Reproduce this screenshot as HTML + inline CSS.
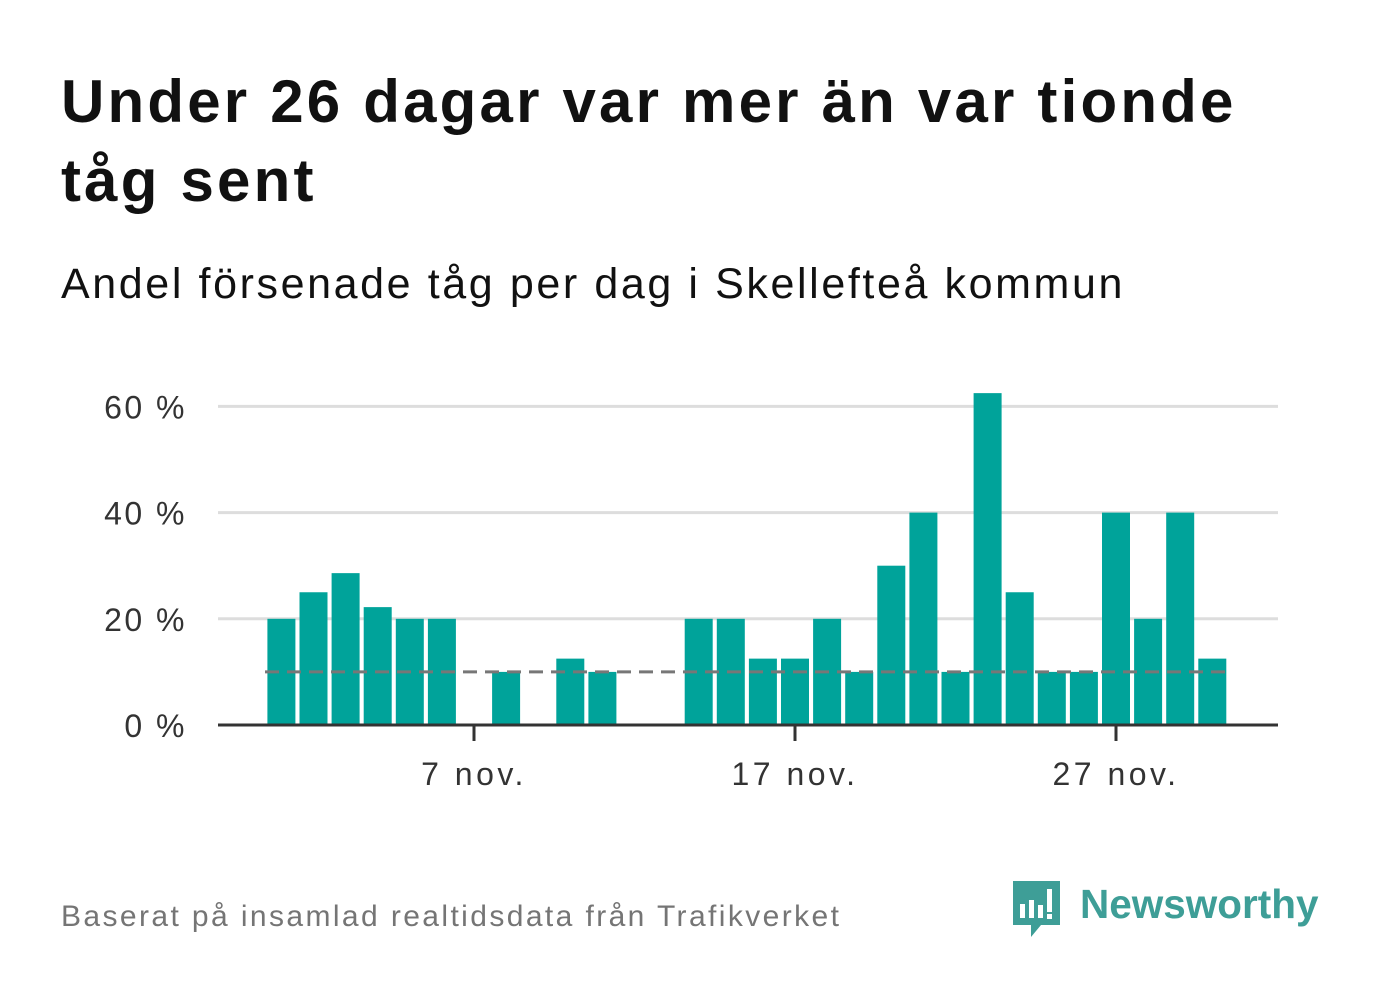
<!DOCTYPE html>
<html><head><meta charset="utf-8"><style>
body{margin:0;background:#fff;width:1382px;height:999px;overflow:hidden;font-family:"Liberation Sans","DejaVu Sans",sans-serif;}
#title{position:absolute;left:61px;top:62px;font-size:60px;font-weight:bold;line-height:79px;color:#111;margin:0;letter-spacing:3.2px}
#sub{position:absolute;left:61px;top:260px;font-size:43px;color:#111;letter-spacing:2.6px}
#foot{position:absolute;left:61px;top:900px;font-size:30px;color:#757575;letter-spacing:2.4px}
svg{position:absolute;left:0;top:0}
</style></head><body>
<h1 id="title">Under 26 dagar var mer än var tionde<br>tåg sent</h1>
<div id="sub">Andel försenade tåg per dag i Skellefteå kommun</div>
<div id="foot">Baserat på insamlad realtidsdata från Trafikverket</div>
<svg id="chart" width="1382" height="999">
<g>
<path d="M1013 881 h47 v44 h-19 l-10 12 v-12 h-18 z" fill="#3e9e97"/>
<rect x="1020" y="904" width="5" height="14" fill="#fff"/>
<rect x="1029" y="900" width="5" height="18" fill="#fff"/>
<rect x="1038" y="905" width="5" height="13" fill="#fff"/>
<rect x="1047" y="889" width="5" height="23" fill="#fff"/>
<rect x="1047" y="914" width="5" height="5" fill="#fff"/>
<text x="1080" y="918" font-size="40.5" font-weight="bold" fill="#3e9e97" font-family="Liberation Sans, sans-serif">Newsworthy</text>
</g>
</svg>
<script>
const days=[1,2,3,4,5,6,7,8,9,10,11,12,13,14,15,16,17,18,19,20,21,22,23,24,25,26,27,28,29,30];
const values=[20,25,28.6,22.2,20,20,0,10,0,12.5,10,0,0,20,20,12.5,12.5,20,10,30,40,10,62.5,25,10,10,40,20,40,12.5];
const yTicks=[0,20,40,60];
const xTicks=[7,17,27];
const xTickLabels=["7 nov.","17 nov.","27 nov."];
const refValue=10;
const svg=document.getElementById('chart');
const NS='http://www.w3.org/2000/svg';
const y=v=>725-v*5.31;
const x=d=>474+(d-7)*32.1;
function mk(t,a){const e=document.createElementNS(NS,t);for(const k in a)e.setAttribute(k,a[k]);svg.appendChild(e);return e;}
yTicks.forEach(v=>{
  if(v>0){const g=mk('line',{x1:218,x2:1278,y1:y(v),y2:y(v),stroke:'#dddddd','stroke-width':3});
  
  }
  const t=mk('text',{x:187,y:y(v)+12,'text-anchor':'end','font-size':32,fill:'#333','letter-spacing':2.5});t.textContent=v+' %';
  
  
});
days.forEach((d,i)=>{
  if(!values[i])return;
  const r=mk('rect',{x:x(d)-14,y:y(values[i]),width:28,height:725-y(values[i]),fill:'#00a39a'});
  
  
});
const rl=mk('line',{x1:265,x2:1230,y1:y(refValue),y2:y(refValue),stroke:'#777','stroke-width':3,'stroke-dasharray':'14 8'});


const ax=mk('line',{x1:218,x2:1278,y1:725,y2:725,stroke:'#333','stroke-width':3});


xTicks.forEach((d,i)=>{
  const tk=mk('line',{x1:x(d),x2:x(d),y1:725,y2:741,stroke:'#333','stroke-width':3});
  
  
  const t=mk('text',{x:x(d),y:785,'text-anchor':'middle','font-size':32,fill:'#333','letter-spacing':3.5});t.textContent=xTickLabels[i];
  
  
});
</script>
</body></html>
